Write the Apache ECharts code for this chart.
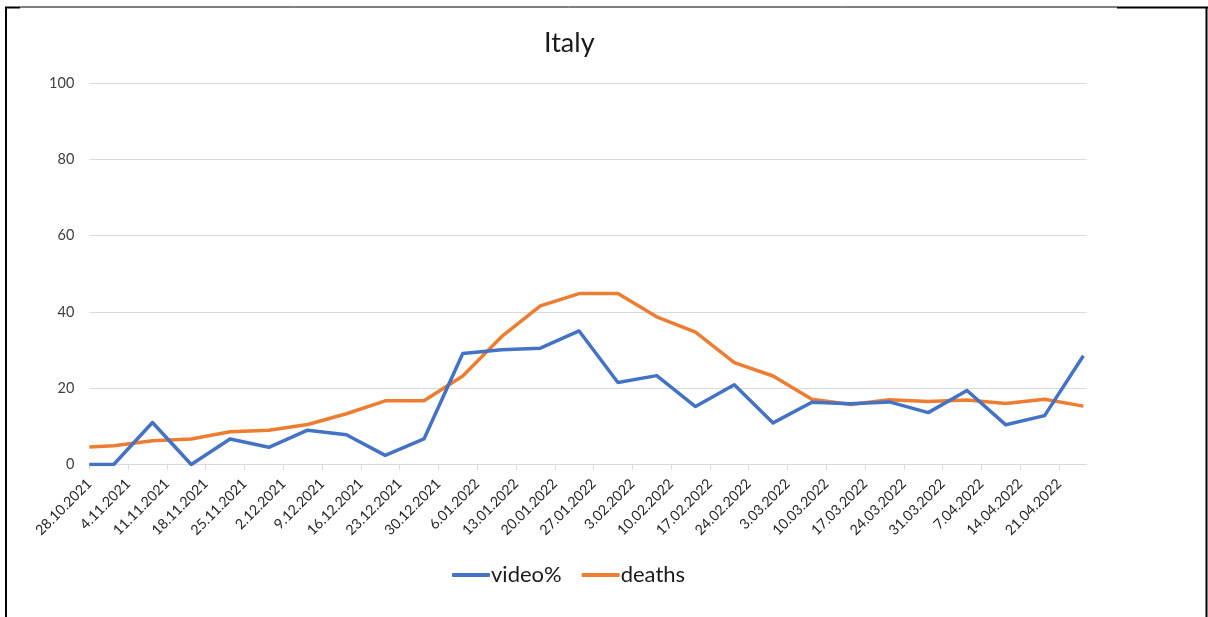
<!DOCTYPE html>
<html>
<head>
<meta charset="utf-8">
<script src="https://cdn.jsdelivr.net/npm/echarts@6/dist/echarts.min.js"></script>
<style>
  html, body { margin: 0; padding: 0; background: #fff; }
  #chart { width: 1208px; height: 617px; }
</style>
</head>
<body>
<div id="chart"></div>
<script>
// Category tick labels (weekly, Thursday dates)
const tickLabels = ['28.10.2021','4.11.2021','11.11.2021','18.11.2021','25.11.2021','2.12.2021','9.12.2021','16.12.2021','23.12.2021','30.12.2021','6.01.2022','13.01.2022','20.01.2022','27.01.2022','3.02.2022','10.02.2022','17.02.2022','24.02.2022','3.03.2022','10.03.2022','17.03.2022','24.03.2022','31.03.2022','7.04.2022','14.04.2022','21.04.2022'];
// Day offset of each observation from 28.10.2021 (date axis)
const dayOffsets = [0, 4.4, 11.4, 18.4, 25.4, 32.4, 39.4, 46.4, 53.4, 60.4, 67.4, 74.4, 81.4, 88.4, 95.4, 102.4, 109.4, 116.4, 123.4, 130.4, 137.4, 144.4, 151.4, 158.4, 165.4, 172.4, 179.4];
const videoPct = [0, 0, 11.0, 0, 6.7, 4.5, 9.0, 7.8, 2.4, 6.7, 29.1, 30.1, 30.5, 35.0, 21.5, 23.3, 15.2, 20.9, 10.9, 16.3, 15.9, 16.4, 13.6, 19.4, 10.4, 12.8, 28.5];
const deaths = [4.6, 4.9, 6.2, 6.7, 8.6, 9.0, 10.5, 13.3, 16.7, 16.7, 23.2, 33.5, 41.6, 44.8, 44.8, 38.7, 34.7, 26.7, 23.2, 17.1, 15.7, 17.0, 16.5, 16.9, 16.0, 17.1, 15.3];

const tickValues = tickLabels.map((_, i) => i * 7);
const FONT = 'Lato';

const chart = echarts.init(document.getElementById('chart'), null, { renderer: 'canvas' });
chart.setOption({
  animation: false,
  backgroundColor: '#ffffff',
  textStyle: { fontFamily: FONT },
  title: {
    text: 'Italy',
    left: 539,
    top: 25,
    textStyle: { fontFamily: FONT, fontSize: 27, fontWeight: 'normal', color: '#1a1a1a' }
  },
  grid: { left: 89.3, right: 121.3, top: 83, bottom: 152.5, containLabel: false },
  xAxis: {
    type: 'value',
    min: 0,
    max: 180,
    interval: 7,
    axisLine: { show: true, lineStyle: { color: '#d9d9d9', width: 1 } },
    axisTick: { show: true, length: 5, customValues: tickValues, lineStyle: { color: '#d9d9d9' } },
    splitLine: { show: false },
    axisLabel: {
      customValues: tickValues,
      rotate: 45,
      margin: 17,
      fontSize: 14.2,
      color: '#262626',
      fontFamily: FONT,
      formatter: v => tickLabels[Math.round(v / 7)] || ''
    }
  },
  yAxis: {
    type: 'value',
    min: 0,
    max: 100,
    interval: 20,
    axisLine: { show: false },
    axisTick: { show: false },
    splitLine: { lineStyle: { color: '#d9d9d9', width: 1 } },
    axisLabel: { fontSize: 14.5, color: '#404040', margin: 15, fontFamily: FONT }
  },
  legend: {
    left: 447,
    top: 559,
    icon: 'roundRect',
    itemWidth: 38,
    itemHeight: 4,
    itemGap: 20,
    textStyle: { fontSize: 22, color: '#1a1a1a', fontFamily: FONT, padding: [0, 0, 0, -4] },
    data: ['video%', 'deaths']
  },
  series: [
    {
      name: 'video%',
      type: 'line',
      data: dayOffsets.map((d, i) => [d, videoPct[i]]),
      showSymbol: false,
      symbol: 'none',
      lineStyle: { color: '#4472C4', width: 3.5, join: 'round' },
      itemStyle: { color: '#4472C4' },
      z: 3
    },
    {
      name: 'deaths',
      type: 'line',
      data: dayOffsets.map((d, i) => [d, deaths[i]]),
      showSymbol: false,
      symbol: 'none',
      lineStyle: { color: '#ED7D31', width: 3.5, join: 'round' },
      itemStyle: { color: '#ED7D31' },
      z: 2
    }
  ],
  graphic: [
    { type: 'line', shape: { x1: 6, y1: 7, x2: 6, y2: 617 }, style: { stroke: '#000', lineWidth: 2 } },
    { type: 'line', shape: { x1: 5, y1: 7.5, x2: 20, y2: 7.5 }, style: { stroke: '#000', lineWidth: 2 } },
    { type: 'line', shape: { x1: 20, y1: 7, x2: 1117, y2: 7 }, style: { stroke: '#000', lineWidth: 1 } },
    { type: 'line', shape: { x1: 1117, y1: 7.5, x2: 1208, y2: 7.5 }, style: { stroke: '#000', lineWidth: 2 } },
    { type: 'line', shape: { x1: 1206.5, y1: 7, x2: 1206.5, y2: 617 }, style: { stroke: '#000', lineWidth: 2 } }
  ]
});
</script>
</body>
</html>
